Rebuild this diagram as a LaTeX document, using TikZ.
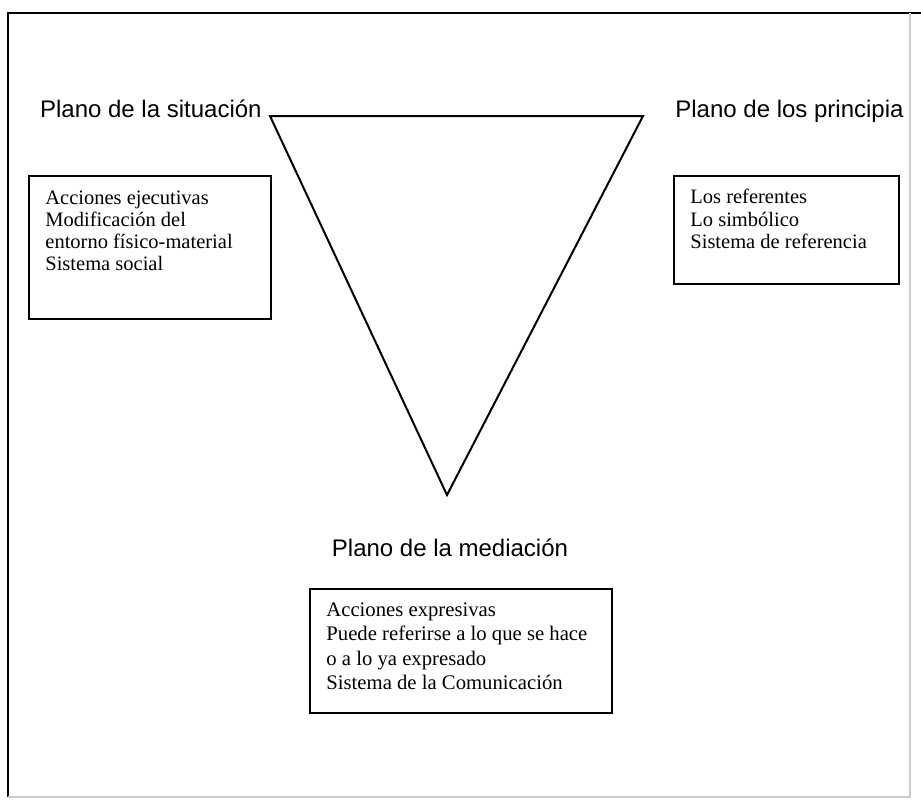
\documentclass[tikz,border=0pt]{standalone}
\usepackage{fontspec}
\setmainfont{Liberation Serif}
\setsansfont{Liberation Sans}
\usetikzlibrary{positioning}

\tikzset{
  plano/.style={font=\sffamily\fontsize{12}{14}\selectfont, inner sep=0pt},
  panel/.style={draw, line width=0.9pt, inner sep=0pt, anchor=north west},
  lista/.style={font=\fontsize{10.25}{11}\selectfont, align=left, inner sep=0pt},
}

\begin{document}
\begin{tikzpicture}[x=0.5pt, y=-0.5pt]
    \useasboundingbox (0,0) rectangle (921,800);

    % Outer frame
    \coordinate (ftl) at (8,13);
    \coordinate (ftr) at (921,13);
    \coordinate (fbl) at (8,797);
    \coordinate (fbr) at (910,797);
    \draw[line width=1.1pt] (fbl) -- (ftl) -- (ftr);
    \draw[gray!40, line width=0.6pt] (fbl) -- (fbr) -- (910,13);

    % Triangle
    \coordinate (sit) at (270,116);
    \coordinate (pri) at (643,116);
    \coordinate (med) at (447,495);
    \draw[line width=1pt] (sit) -- (pri) -- (med) -- cycle;

    % Plane labels
    \node[plano, anchor=base east] (lsit) at (262,117) {Plano de la situación};
    \node[plano, anchor=base west] (lpri) at (675,117) {Plano de los principia};
    \node[plano, anchor=base] (lmed) at (450,556) {Plano de la mediación};

    % Situation box
    \node[panel, minimum width=121pt, minimum height=71.5pt] (bsit) at (28,175) {};
    \node[lista, below right=8pt and 8.5pt of bsit.north west] (tsit)
        {Acciones ejecutivas\\Modificación del\\entorno físico-material\\Sistema social};

    % Principia box
    \node[panel, minimum width=112.5pt, minimum height=54pt] (bpri) at (673,175) {};
    \node[lista, font=\fontsize{10.25}{11.25}\selectfont, below right=7pt and 8.5pt of bpri.north west] (tpri)
        {Los referentes\\Lo simbólico\\Sistema de referencia};

    % Mediation box
    \node[panel, minimum width=151pt, minimum height=62pt] (bmed) at (309,588) {};
    \node[lista, font=\fontsize{10.35}{12.25}\selectfont, below right=7pt and 8.5pt of bmed.north west] (tmed)
        {Acciones expresivas\\Puede referirse a lo que se hace\\o a lo ya expresado\\Sistema de la Comunicación};

\end{tikzpicture}
\end{document}
